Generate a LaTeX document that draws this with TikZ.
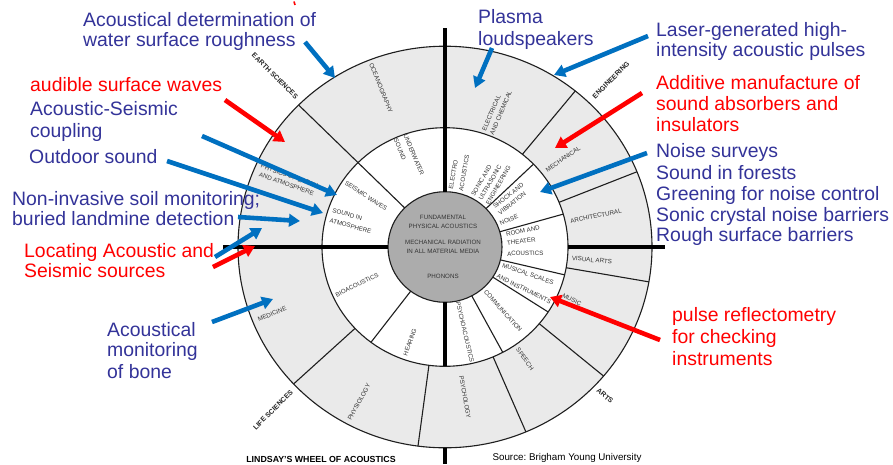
\documentclass[tikz,border=0pt]{standalone}
\usepackage{fontspec}
\setmainfont{Liberation Sans}
\usetikzlibrary{arrows.meta}
\definecolor{txtblue}{RGB}{51,51,153}
\definecolor{arrblue}{RGB}{0,112,192}
\definecolor{ringgray}{RGB}{234,234,234}
\definecolor{hubgray}{RGB}{172,172,172}
\definecolor{wline}{RGB}{30,30,30}
\begin{document}
\begin{tikzpicture}[x=1pt,y=-1pt,
  note/.style={anchor=base west, inner sep=0pt, font=\fontsize{19.4}{21.3}\selectfont},
  bluenote/.style={note, text=txtblue},
  rednote/.style={note, text=red},
  arr/.style={line width=4.6pt, -{Triangle[length=11pt,width=12.5pt]}},
  barr/.style={arr, color=arrblue},
  rarr/.style={arr, color=red},
  wl/.style={line width=1.1pt, draw=wline},
  axisline/.style={line width=3.2pt, draw=black},
  wlab/.style={inner sep=0pt, text=black!80, font=\fontsize{6.2}{8.5}\selectfont},
  wlabw/.style={wlab, font=\fontsize{6.2}{10.5}\selectfont},
  olab/.style={inner sep=0pt, text=black!85, font=\bfseries\fontsize{7}{8}\selectfont}
]
\useasboundingbox (0,0) rectangle (893,464);
\fill[white] (0,0) rectangle (893,464);

% ---------------- wheel ----------------
\begin{scope}[shift={(445,247)}, y=0.97pt]
  \fill[ringgray] (0,0) circle [radius=207];
  \fill[white] (0,0) circle [radius=123];
  \fill[hubgray] (0,0) circle [radius=57];
  \draw[wl] (0,0) circle [radius=207];
  \draw[wl] (0,0) circle [radius=123];
  \draw[wl] (0,0) circle [radius=57];
  % outer ring dividers
  \foreach \a in {51,22,-10,-40,-67,-97.5,-137}
    \draw[wl] (\a:123) -- (\a:207);
  \draw[wl] (135:57) -- (135:207);
  % inner ring dividers
  \foreach \a in {44,16,-13.5,-33,-62,-127}
    \draw[wl] (\a:57) -- (\a:123);
  % thick axes
  \draw[axisline] (90:57) -- (90:226);
  \draw[axisline] (180:57) -- (180:222);
  \draw[axisline] (0:123) -- (0:220);
  \draw[axisline] (-90:57) -- (-90:123);
  \draw[axisline] (-90:207) -- (-90:224);
\end{scope}

% hub text
\node[wlab] (hub1) at (443,217) {FUNDAMENTAL};
\node[wlab] (hub2) at (443,226) {PHYSICAL ACOUSTICS};
\node[wlab] (hub3) at (443,242) {MECHANICAL RADIATION};
\node[wlab] (hub4) at (443,251) {IN ALL MATERIAL MEDIA};
\node[wlab] (hub5) at (443,276) {PHONONS};

% outer ring labels
\node[wlab, rotate=-68] (ocean) at (381,88) {OCEANOGRAPHY};
\node[wlab, rotate=-20, align=center] (phys) at (288,180) {PHYSICS OF EARTH\\AND ATMOSPHERE};
\node[wlab, rotate=67, align=left] (elec) at (497,111) {ELECTRICAL\\AND CHEMICAL};
\node[wlab, rotate=35] (mech) at (563,159) {MECHANICAL};
\node[wlab, rotate=11] (arch) at (596,216) {ARCHITECTURAL};
\node[wlab, rotate=-5] (vis) at (592,260) {VISUAL ARTS};
\node[wlab, rotate=-24] (music) at (572,300) {MUSIC};
\node[wlab, rotate=-55] (speech) at (525,359) {SPEECH};
\node[wlab, rotate=-80] (psychol) at (465,397) {PSYCHOLOGY};
\node[wlab, rotate=61] (physio) at (359,402) {PHYSIOLOGY};
\node[wlab, rotate=22] (medic) at (272,314) {MEDICINE};

% inner ring labels
\node[wlabw, rotate=-67, align=left] (under) at (409,157) {UNDERWATER\\SOUND};
\node[wlab, rotate=-33] (seis) at (366,196) {SEISMIC WAVES};
\node[wlabw, rotate=-16, align=left] (sia) at (352,221) {SOUND IN\\ATMOSPHERE};
\node[wlabw, rotate=80, align=left] (eleca) at (459,172) {ELECTRO\\ACOUSTICS};
\node[wlab, rotate=60, align=left] (sonic) at (491,181) {SONIC AND\\ULTRASONIC\\ENGINEERING};
\node[wlab, rotate=38, align=left] (shock) at (511,199) {SHOCK AND\\VIBRATION};
\node[wlab, rotate=23] (noise) at (509,220) {NOISE};
\node[wlab, rotate=11, anchor=west] (room1) at (506,234) {ROOM AND};
\node[wlab, rotate=7, anchor=west] (room2) at (507,243) {THEATER};
\node[wlab, rotate=2, anchor=west] (room3) at (507,254) {ACOUSTICS};
\node[wlab, rotate=-19] (mus1) at (528,274) {MUSICAL SCALES};
\node[wlab, rotate=-26] (mus2) at (524,289) {AND INSTRUMENTS};
\node[wlab, rotate=-48] (comm) at (503,311) {COMMUNICATION};
\node[wlab, rotate=-77] (psyac) at (465,332) {PSYCHOACOUSTICS};
\node[wlab, rotate=70] (hear) at (410,342) {HEARING};
\node[wlab, rotate=26] (bio) at (357,285) {BIOACOUSTICS};

% field labels outside the wheel
\node[olab, rotate=-45] (earth) at (275,76) {EARTH SCIENCES};
\node[olab, rotate=45] (eng) at (611,80) {ENGINEERING};
\node[olab, rotate=-40] (arts) at (605,396) {ARTS};
\node[olab, rotate=45] (life) at (273,410) {LIFE SCIENCES};

\node[anchor=base, inner sep=0pt, font=\bfseries\fontsize{8.8}{10}\selectfont] (title) at (321,462.7) {LINDSAY'S WHEEL OF ACOUSTICS};
\node[anchor=base, inner sep=0pt, font=\fontsize{9.8}{11}\selectfont] (src) at (567,460.7) {Source:\ Brigham\ Young\ University};

% ---------------- annotations ----------------
\node[bluenote] (wa1) at (83,26) {Acoustical determination of};
\node[bluenote] (wa2) at (83,46.7) {water surface roughness};
\node[bluenote] (pl1) at (478,23.3) {Plasma};
\node[bluenote] (pl2) at (478,45) {loudspeakers};
\node[bluenote] (la1) at (656,36) {Laser-generated high-};
\node[bluenote] (la2) at (656,56.7) {intensity acoustic pulses};
\node[rednote] (au1) at (30,91.7) {audible surface waves};
\node[bluenote] (as1) at (30,115.7) {Acoustic-Seismic};
\node[bluenote] (as2) at (30,137.7) {coupling};
\node[bluenote] (od1) at (29,163.3) {Outdoor sound};
\node[bluenote] (ni1) at (12,205) {Non-invasive soil monitoring;};
\node[bluenote] (ni2) at (12,225) {buried landmine detection};
\node[rednote] (lo1) at (24,257.3) {Locating Acoustic and};
\node[rednote] (lo2) at (24,277.7) {Seismic sources};
\node[bluenote] (bo1) at (107,336.7) {Acoustical};
\node[bluenote] (bo2) at (107,356.7) {monitoring};
\node[bluenote] (bo3) at (107,378.3) {of bone};
\node[rednote] (ad1) at (656,89.3) {Additive manufacture of};
\node[rednote] (ad2) at (656,110.7) {sound absorbers and};
\node[rednote] (ad3) at (656,131) {insulators};
\node[bluenote] (ns1) at (656,157.7) {Noise surveys};
\node[bluenote] (ns2) at (656,179) {Sound in forests};
\node[bluenote] (ns3) at (656,200) {Greening for noise control};
\node[bluenote] (ns4) at (656,221) {Sonic crystal noise barriers};
\node[bluenote] (ns5) at (656,241.7) {Rough surface barriers};
\node[rednote] (pu1) at (672,321.7) {pulse reflectometry};
\node[rednote] (pu2) at (672,343.3) {for checking};
\node[rednote] (pu3) at (672,365) {instruments};

% arrow ends
\coordinate (waT) at (305,42);  \coordinate (waH) at (335,78);
\coordinate (plT) at (492,48);  \coordinate (plH) at (475,88);
\coordinate (laT) at (648,36);  \coordinate (laH) at (554,75);
\coordinate (auT) at (225,100); \coordinate (auH) at (285,142);
\coordinate (asT) at (202,136); \coordinate (asH) at (337,195);
\coordinate (odT) at (167,161); \coordinate (odH) at (323,213);
\coordinate (niT) at (238,217); \coordinate (niH) at (300,221);
\coordinate (nbT) at (215,257); \coordinate (nbH) at (262,228);
\coordinate (loT) at (213,267); \coordinate (loH) at (255,246);
\coordinate (boT) at (212,322); \coordinate (boH) at (273,299);
\coordinate (adT) at (642,93);  \coordinate (adH) at (555,148);
\coordinate (nsT) at (647,153); \coordinate (nsH) at (540,192);
\coordinate (puT) at (660,340); \coordinate (puH) at (550,297);

\draw[barr] (waT) -- (waH);
\draw[barr] (plT) -- (plH);
\draw[barr] (laT) -- (laH);
\draw[rarr] (auT) -- (auH);
\draw[barr] (asT) -- (asH);
\draw[barr] (odT) -- (odH);
\draw[barr] (niT) -- (niH);
\draw[barr] (nbT) -- (nbH);
\draw[rarr] (loT) -- (loH);
\draw[barr] (boT) -- (boH);
\draw[rarr] (adT) -- (adH);
\draw[barr] (nsT) -- (nsH);
\draw[rarr] (puT) -- (puH);

% small red mark at the top edge
\coordinate (rmA) at (294,1.5); \coordinate (rmB) at (295,5);
\draw[red, line width=1.6pt] (rmA) -- (rmB);
\end{tikzpicture}
\end{document}
